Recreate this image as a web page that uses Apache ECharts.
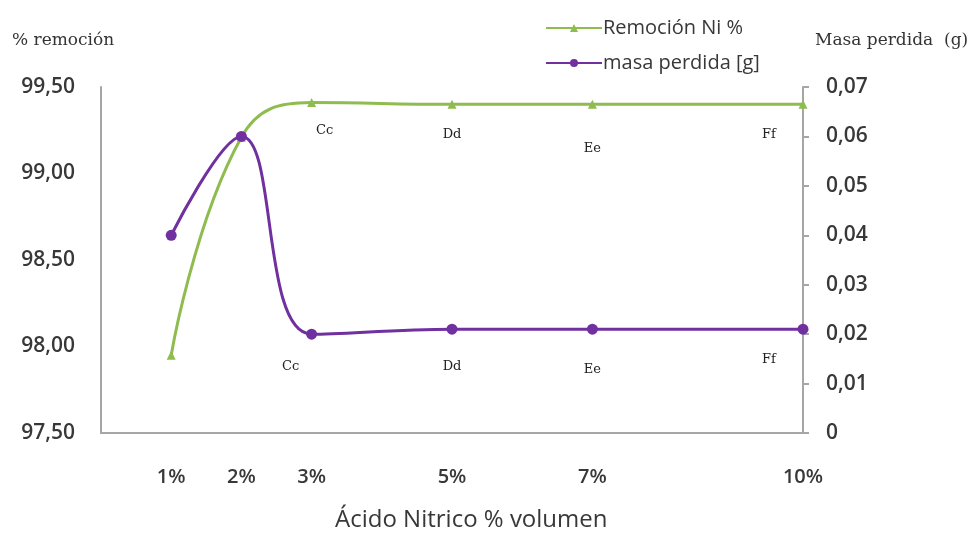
<!DOCTYPE html>
<html>
<head>
<meta charset="utf-8">
<script src="https://cdn.jsdelivr.net/npm/echarts@6/dist/echarts.min.js"></script>
<style>
html,body{margin:0;padding:0;background:#fff;}
#chart{width:976px;height:540px;}
</style>
</head>
<body>
<div id="chart"></div>
<script>
// ---- data ----
const acidPercent = [1, 2, 3, 5, 7, 10];
const removalNi = [97.95, 99.21, 99.41, 99.40, 99.40, 99.40];
const massLost = [0.040, 0.060, 0.020, 0.021, 0.021, 0.021];
const pointTags = ['', '', 'Cc', 'Dd', 'Ee', 'Ff'];
const xTickValues = [1, 2, 3, 5, 7, 10];
const seriesNames = ['Remoción Ni %', 'masa perdida [g]'];

// ---- style (label offsets in px) ----
const greenOffsets = [[0,0],[0,0],[13,28],[0,30],[0,44],[-34,30]];
const purpleOffsets = [[0,0],[0,0],[-21,32],[0,37],[0,40],[-34,30]];
const GREEN = '#8fbc4f';
const PURPLE = '#7030a0';
const TXT = '#383838';
const SANS = '"Open Sans", sans-serif';
const SERIF = '"DejaVu Serif", "Liberation Serif", serif';

function build(vals, tags, offs) {
  return acidPercent.map((x, i) => ({
    value: [x, vals[i]],
    label: {
      show: tags[i] !== '',
      formatter: tags[i],
      position: 'inside',
      offset: offs[i],
      fontFamily: SERIF,
      fontSize: 13,
      color: '#222'
    }
  }));
}

const chart = echarts.init(document.getElementById('chart'), null, {renderer: 'canvas'});
chart.setOption({
  animation: false,
  backgroundColor: '#fff',
  grid: {left: 101, right: 173, top: 87, bottom: 107, containLabel: false},
  legend: {
    orient: 'vertical',
    left: 540,
    top: 13,
    itemWidth: 56,
    itemHeight: 10,
    itemGap: 15,
    textStyle: {fontFamily: SANS, fontSize: 20, color: TXT, padding: [0,0,0,-4]},
    data: seriesNames
  },
  xAxis: {
    type: 'value',
    min: 0, max: 10, interval: 1,
    axisLine: {show: true, onZero: false, lineStyle: {color: '#a6a6a6', width: 2}},
    axisTick: {show: false},
    splitLine: {show: false},
    axisLabel: {
      margin: 34,
      fontFamily: SANS, fontSize: 20, fontWeight: 600, color: TXT,
      formatter: v => xTickValues.includes(v) ? v + '%' : ''
    }
  },
  yAxis: [
    {
      type: 'value', min: 97.5, max: 99.5, interval: 0.5,
      axisLine: {show: true, lineStyle: {color: '#a6a6a6', width: 2}},
      axisTick: {show: false},
      splitLine: {show: false},
      axisLabel: {
        margin: 26,
        fontFamily: SANS, fontSize: 21, fontWeight: 600, color: TXT,
        formatter: v => v.toFixed(2).replace('.', ',')
      }
    },
    {
      type: 'value', min: 0, max: 0.07, interval: 0.01, position: 'right',
      axisLine: {show: true, lineStyle: {color: '#a6a6a6', width: 2}},
      axisTick: {show: true, inside: false, length: 6, lineStyle: {color: '#a6a6a6', width: 2}},
      splitLine: {show: false},
      axisLabel: {
        margin: 23,
        fontFamily: SANS, fontSize: 21, fontWeight: 600, color: TXT,
        formatter: v => v === 0 ? '0' : v.toFixed(2).replace('.', ',')
      }
    }
  ],
  series: [
    {
      name: seriesNames[0],
      type: 'line',
      yAxisIndex: 0,
      smooth: 0.45,
      symbol: 'triangle',
      symbolSize: 9,
      lineStyle: {color: GREEN, width: 3},
      itemStyle: {color: GREEN},
      data: build(removalNi, pointTags, greenOffsets),
      z: 2
    },
    {
      name: seriesNames[1],
      type: 'line',
      yAxisIndex: 1,
      smooth: 0.4,
      symbol: 'circle',
      symbolSize: 11,
      lineStyle: {color: PURPLE, width: 3},
      itemStyle: {color: PURPLE},
      data: build(massLost, pointTags, purpleOffsets),
      z: 3
    }
  ],
  graphic: [
    {type: 'text', left: 12, top: 32, style: {text: '% remoción', font: '17px ' + SERIF, fill: '#333'}},
    {type: 'text', left: 815, top: 32, style: {text: 'Masa perdida  (g)', font: '17px ' + SERIF, fill: '#333'}},
    {type: 'text', left: 335, top: 508, style: {text: 'Ácido Nitrico % volumen', font: '24px ' + SANS, fill: TXT}}
  ]
});
</script>
</body>
</html>
